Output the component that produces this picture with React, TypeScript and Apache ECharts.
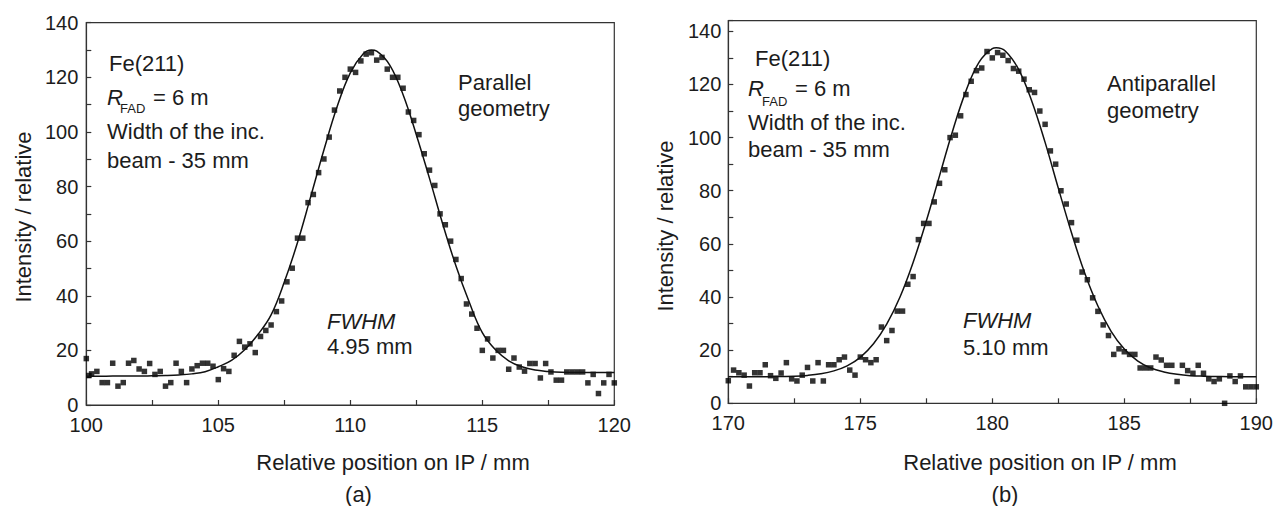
import React, { useEffect, useRef } from "react";
import * as echarts from "echarts";

// ---------- Data: panel (a) parallel geometry ----------
const leftX = [
  100.0, 100.1, 100.2, 100.4, 100.6, 100.8, 101.0, 101.2, 101.4, 101.6,
  101.8, 102.0, 102.2, 102.4, 102.6, 102.8, 103.0, 103.2, 103.4, 103.6,
  103.8, 104.0, 104.2, 104.4, 104.6, 104.8, 105.0, 105.2, 105.4, 105.6,
  105.8, 106.0, 106.2, 106.4, 106.6, 106.8, 107.0, 107.2, 107.4, 107.6,
  107.8, 108.0, 108.2, 108.4, 108.6, 108.8, 109.0, 109.2, 109.4, 109.6,
  109.8, 110.0, 110.2, 110.4, 110.6, 110.8, 111.0, 111.2, 111.4, 111.6,
  111.8, 112.0, 112.2, 112.4, 112.6, 112.8, 113.0, 113.2, 113.4, 113.6,
  113.8, 114.0, 114.2, 114.4, 114.6, 114.8, 115.0, 115.2, 115.4, 115.6,
  115.8, 116.0, 116.2, 116.4, 116.6, 116.8, 117.0, 117.2, 117.4, 117.6,
  117.8, 118.0, 118.2, 118.4, 118.6, 118.8, 119.0, 119.2, 119.4, 119.6,
  119.8, 120.0,
];
const leftY = [
  17, 10.8, 11.4, 12.3, 8.2, 8.2, 15.3, 6.9, 8.2, 15.3,
  16.3, 13.2, 12.3, 15.2, 11.2, 12.3, 6.9, 8.2, 15.3, 12.3,
  8.2, 13.2, 14.4, 15.3, 15.3, 14.2, 9.3, 13.3, 12.3, 18.2,
  23.3, 21.2, 22.4, 19.2, 25.1, 27.3, 29.3, 34.2, 38.1, 45.1,
  50.1, 61.1, 61.1, 74.1, 77.1, 85.1, 90.1, 98.1, 108, 115,
  120, 123, 121.8, 126, 128.5, 129, 126.3, 127.3, 123, 120,
  120, 116, 107.3, 104.2, 99, 92, 86, 80.4, 70, 66,
  60, 53.3, 46.3, 37, 33.3, 28.1, 20, 24.2, 17.2, 20,
  20, 13.1, 17.2, 13.9, 12.4, 15.2, 15.2, 9.9, 15.2, 12.1,
  9.1, 9.1, 12.1, 12.1, 12.1, 12.1, 8.1, 11.2, 4.2, 8.1,
  11.2, 8.1,
];
const leftFitX = [
  100, 100.5, 101, 101.5, 102, 102.5, 103, 103.5, 104, 104.5,
  105, 105.5, 106, 106.5, 107, 107.5, 108, 108.5, 109, 109.5,
  110, 110.5, 110.8, 111, 111.5, 112, 112.5, 113, 113.5, 114, 114.5,
  115, 115.5, 116, 116.5, 117, 117.5, 118, 118.5, 119, 119.5, 120,
];
const leftFitY = [
  10.5, 10.5, 10.6, 10.6, 10.6, 10.7, 10.8, 11.0, 11.4, 12.2,
  14.0, 16.3, 20.2, 25.8, 33.0, 45.0, 59.5, 76.3, 93.4, 109.2,
  121.6, 128.7, 130.0, 129.6, 124.4, 113.6, 99.0, 83.0, 66.3, 51.0, 37.8,
  26.5, 20.2, 16.2, 14.0, 12.8, 12.3, 12.0, 11.9, 11.9, 11.9, 11.9,
];

// ---------- Data: panel (b) antiparallel geometry ----------
const rightX = [
  170.0, 170.2, 170.4, 170.6, 170.8, 171.0, 171.2, 171.4, 171.6, 171.8,
  172.0, 172.2, 172.4, 172.6, 172.8, 173.0, 173.2, 173.4, 173.6, 173.8,
  174.0, 174.2, 174.4, 174.6, 174.8, 175.0, 175.2, 175.4, 175.6, 175.8,
  176.0, 176.2, 176.4, 176.6, 176.8, 177.0, 177.2, 177.4, 177.6, 177.8,
  178.0, 178.2, 178.4, 178.6, 178.8, 179.0, 179.2, 179.4, 179.6, 179.8,
  180.0, 180.2, 180.4, 180.6, 180.8, 181.0, 181.2, 181.4, 181.6, 181.8,
  182.0, 182.2, 182.4, 182.6, 182.8, 183.0, 183.2, 183.4, 183.6, 183.8,
  184.0, 184.2, 184.4, 184.6, 184.8, 185.0, 185.2, 185.4, 185.6, 185.8,
  186.0, 186.2, 186.4, 186.6, 186.8, 187.0, 187.2, 187.4, 187.6, 187.8,
  188.0, 188.2, 188.4, 188.6, 188.8, 189.0, 189.2, 189.4, 189.6, 189.8,
  190.0,
];
const rightY = [
  8.5, 12.5, 11.5, 10.6, 6.5, 11.5, 11.5, 14.5, 10.4, 9.4,
  11.4, 15.3, 9.2, 8.4, 10.6, 13.5, 8.4, 15.3, 8.4, 14.5,
  14.5, 16.4, 17.4, 12.5, 10.6, 17.4, 16.4, 15.3, 16.4, 28.7,
  23.6, 27.4, 34.7, 34.7, 44.8, 47.7, 61.6, 67.7, 67.7, 75.8,
  82.8, 87.9, 100, 100.9, 108.2, 116.2, 121.2, 125.2, 126.2, 132.4,
  130, 132, 131, 129, 126, 125, 122, 118, 117, 110,
  105, 95, 90, 80, 75, 68, 61.4, 49.4, 46.5, 39.7,
  34.6, 29.5, 25.5, 18.4, 20.5, 19.4, 18.4, 18.4, 13.3, 13.3,
  13.3, 17.4, 16.3, 14.3, 14.3, 8.2, 14.3, 12.3, 11.3, 14.3,
  11.3, 9.2, 8.2, 9.2, 0, 10.3, 8.2, 10.3, 6.2, 6.2,
  6.2,
];
const rightFitX = [
  170, 170.5, 171, 171.5, 172, 172.5, 173, 173.5, 174, 174.5,
  175, 175.5, 176, 176.5, 177, 177.5, 178, 178.5, 179, 179.5,
  180, 180.15, 180.5, 181, 181.5, 182, 182.5, 183, 183.5, 184, 184.5,
  185, 185.5, 186, 186.5, 187, 187.5, 188, 188.5, 189, 189.5, 190,
];
const rightFitY = [
  10.0, 10.0, 10.0, 10.0, 10.1, 10.2, 10.5, 11.1, 12.2, 14.1,
  17.3, 22.4, 29.8, 39.9, 53.0, 68.6, 85.6, 102.6, 117.5, 128.4,
  133.5, 133.8, 132.5, 125.6, 113.6, 98.2, 81.0, 64.2, 49.0, 36.6, 27.1,
  20.4, 16.0, 13.3, 11.8, 10.9, 10.4, 10.2, 10.1, 10.0, 10.0, 10.0,
];

const yTicksLabelled = [0, 20, 40, 60, 80, 100, 120, 140];

const FONT = '"Liberation Sans", Arial, sans-serif';
const AXIS = "#333333";
const INK = "#1c1c1c";

function zip(xs: number[], ys: number[]) {
  return xs.map((x, i) => [x, ys[i]]);
}

function makeX(gridIndex: number, min: number, max: number) {
  return {
    type: "value",
    gridIndex,
    min,
    max,
    interval: 2.5,
    axisLine: { show: true, onZero: false, lineStyle: { color: AXIS, width: 1.2 } },
    axisTick: { show: true, inside: true, length: 5, lineStyle: { color: AXIS, width: 1.2 } },
    axisLabel: {
      margin: 10.5,
      color: INK,
      fontSize: 20,
      lineHeight: 18,
      fontFamily: FONT,
      formatter: (v: number) => (v % 5 === 0 ? String(v) : ""),
    },
    splitLine: { show: false },
  };
}

function makeY(gridIndex: number, max: number, margin: number) {
  return {
    type: "value",
    gridIndex,
    min: 0,
    max,
    interval: 10,
    axisLine: { show: true, onZero: false, lineStyle: { color: AXIS, width: 1.2 } },
    axisTick: { show: true, inside: true, length: 5, lineStyle: { color: AXIS, width: 1.2 } },
    axisLabel: {
      margin,
      color: INK,
      fontSize: 20,
      lineHeight: 18,
      fontFamily: FONT,
      formatter: (v: number) => (yTicksLabelled.indexOf(v) >= 0 ? String(v) : ""),
    },
    splitLine: { show: false },
  };
}

function txt(text: string, x: number, y: number, opts: any = {}) {
  return {
    type: "text",
    x,
    y,
    silent: true,
    rotation: opts.rotation || 0,
    style: {
      text,
      fill: INK,
      font: `${opts.italic ? "italic " : ""}${opts.size || 22}px ${FONT}`,
      align: opts.align || "left",
      verticalAlign: "middle",
    },
  };
}

export default function App() {
  const ref = useRef<HTMLDivElement>(null);

  useEffect(() => {
    if (!ref.current) return;
    const chart = echarts.init(ref.current, undefined, { renderer: "svg" });

    const option: any = {
      animation: false,
      backgroundColor: "#ffffff",
      grid: [
        {
          left: 86.3, top: 22.7, width: 528, height: 382.3,
          show: true, borderColor: AXIS, borderWidth: 1.2, backgroundColor: "transparent",
        },
        {
          left: 728.3, top: 20.7, width: 528, height: 382.6,
          show: true, borderColor: AXIS, borderWidth: 1.2, backgroundColor: "transparent",
        },
      ],
      xAxis: [makeX(0, 100, 120), makeX(1, 170, 190)],
      yAxis: [makeY(0, 140, 8), makeY(1, 144, 7)],
      series: [
        {
          type: "scatter", xAxisIndex: 0, yAxisIndex: 0,
          data: zip(leftX, leftY), symbol: "rect", symbolSize: 5.5,
          itemStyle: { color: "#000000" },
        },
        {
          type: "line", xAxisIndex: 0, yAxisIndex: 0,
          data: zip(leftFitX, leftFitY), smooth: 0.4, showSymbol: false,
          lineStyle: { color: "#111111", width: 1.5 },
        },
        {
          type: "scatter", xAxisIndex: 1, yAxisIndex: 1,
          data: zip(rightX, rightY), symbol: "rect", symbolSize: 5.5,
          itemStyle: { color: "#000000" },
        },
        {
          type: "line", xAxisIndex: 1, yAxisIndex: 1,
          data: zip(rightFitX, rightFitY), smooth: 0.4, showSymbol: false,
          lineStyle: { color: "#111111", width: 1.5 },
        },
      ],
      graphic: [
        // Panel (a) annotations
        txt("Fe(211)", 109, 63),
        txt("R", 107, 97, { italic: true }),
        txt("FAD", 120, 108.5, { size: 13 }),
        txt("= 6 m", 153, 97),
        txt("Width of the inc.", 107, 131.5),
        txt("beam - 35 mm", 107, 160),
        txt("Parallel", 458, 82.5),
        txt("geometry", 458, 108),
        txt("FWHM", 327, 321.5, { italic: true }),
        txt("4.95 mm", 327, 346),
        txt("Relative position on IP / mm", 393, 462.5, { align: "center" }),
        txt("(a)", 358.5, 494, { align: "center" }),
        txt("Intensity / relative", 23, 217, { align: "center", rotation: Math.PI / 2 }),
        // Panel (b) annotations
        txt("Fe(211)", 755, 58.5),
        txt("R", 748, 88.5, { italic: true }),
        txt("FAD", 762, 101.5, { size: 13 }),
        txt("= 6 m", 795, 88.5),
        txt("Width of the inc.", 748, 122.5),
        txt("beam - 35 mm", 748, 149),
        txt("Antiparallel", 1107, 83),
        txt("geometry", 1107, 110),
        txt("FWHM", 963, 320.5, { italic: true }),
        txt("5.10 mm", 963, 347),
        txt("Relative position on IP / mm", 1040, 462.5, { align: "center" }),
        txt("(b)", 1005, 494, { align: "center" }),
        txt("Intensity / relative", 665, 226, { align: "center", rotation: Math.PI / 2 }),
      ],
    };

    chart.setOption(option);
    return () => {
      chart.dispose();
    };
  }, []);

  return (
    <div
      ref={ref}
      style={{ position: "absolute", left: 0, top: 0, width: 1283, height: 506 }}
    />
  );
}
